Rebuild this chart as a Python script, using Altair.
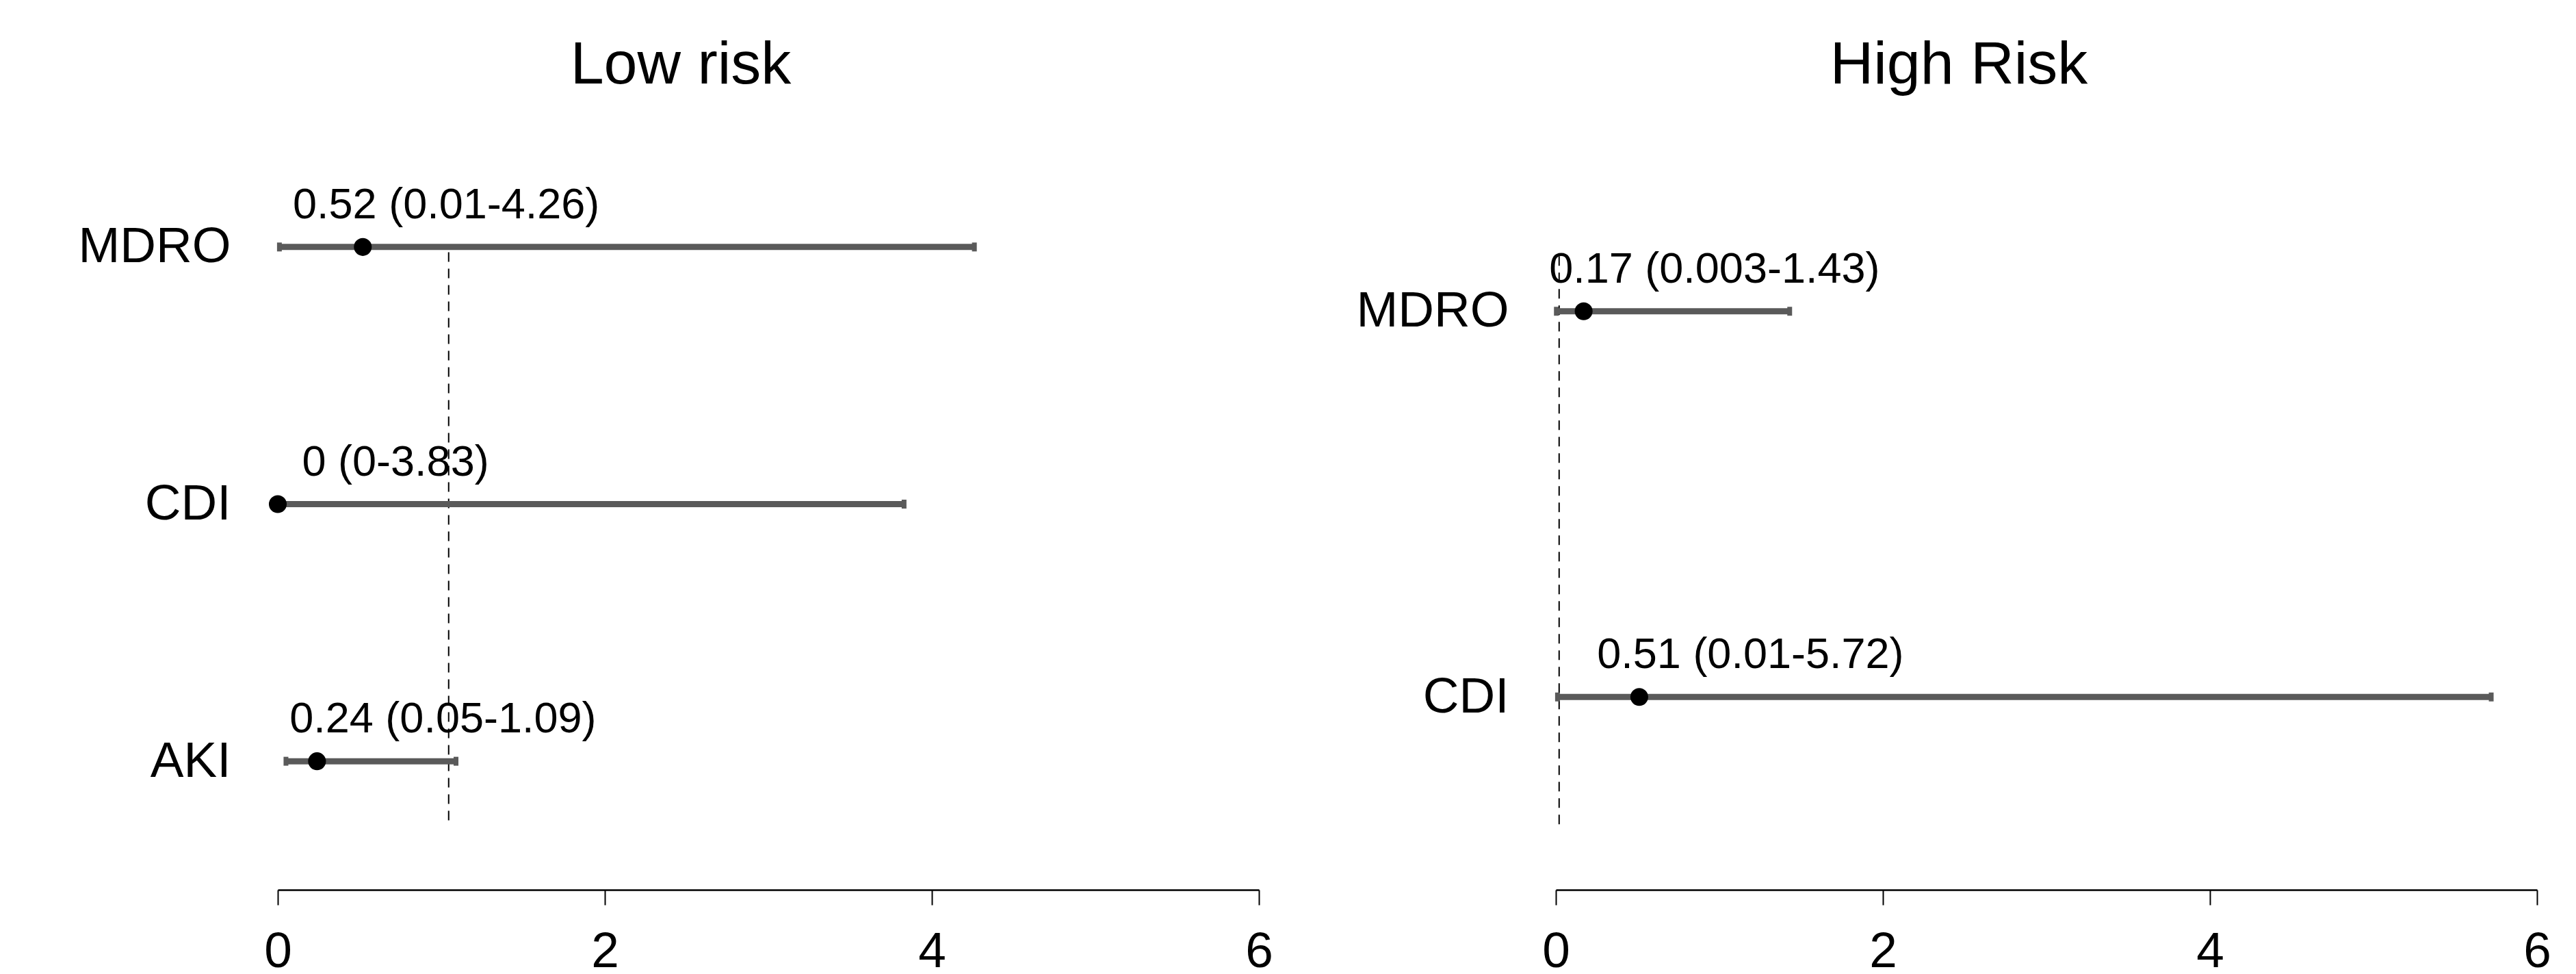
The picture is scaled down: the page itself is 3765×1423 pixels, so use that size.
import altair as alt
import pandas as pd

# ---- data ----
low_cats = ["MDRO", "CDI", "AKI"]
low_est = [0.52, 0.0, 0.24]
low_lo = [0.01, 0.0, 0.05]
low_hi = [4.26, 3.83, 1.09]
low_text = ["0.52 (0.01-4.26)", "0 (0-3.83)", "0.24 (0.05-1.09)"]
low_label_x = [1.03, 0.72, 1.01]
low_ref_x = 1.045
low_ref_y = [0.77, 3.0]

high_cats = ["MDRO", "CDI"]
high_est = [0.17, 0.51]
high_lo = [0.003, 0.01]
high_hi = [1.43, 5.72]
high_text = ["0.17 (0.003-1.43)", "0.51 (0.01-5.72)"]
high_label_x = [0.97, 1.19]
high_ref_x = 0.02
high_ref_y = [0.67, 2.16]

x_ticks = [0, 2, 4, 6]

FONT = "Liberation Sans"
GRAY = "#5a5a5a"
W, H = 1434, 1127


def panel(title, cats, est, lo, hi, text, lx, ref_x, ref_y):
    n = len(cats)
    rows = list(range(n, 0, -1))
    df = pd.DataFrame({"cat": cats, "row": rows, "est": est, "lo": lo,
                       "hi": hi, "text": text, "lx": lx})
    ref = pd.DataFrame({"x": [ref_x], "y": [ref_y[0]], "y2": [ref_y[1]]})
    names_by_row = [None] * (n + 1)
    for c, r in zip(cats, rows):
        names_by_row[r] = c
    label_expr = "[" + ",".join("'" + (c or "") + "'" for c in names_by_row) + "][datum.value]"

    xscale = alt.Scale(domain=[0, 6], nice=False, zero=False)
    yscale = alt.Scale(domain=[0.5, n + 0.5], nice=False, zero=False)
    xaxis = alt.Axis(values=x_ticks, format="d", grid=False, title=None,
                     labelFontSize=73, labelFont=FONT, labelColor="black",
                     tickSize=22, tickWidth=2, tickColor="black",
                     domainColor="black", domainWidth=2.5, labelPadding=32,
                     labelFlush=False, labelLimit=0)
    yaxis = alt.Axis(values=rows, grid=False, title=None, labelFontSize=73,
                     labelFont=FONT, labelColor="black", ticks=False,
                     domain=False, labelPadding=69, labelExpr=label_expr,
                     labelLimit=0)

    base = alt.Chart(df)
    bars = base.mark_rule(color=GRAY, strokeWidth=9).encode(
        x=alt.X("lo:Q", scale=xscale, axis=xaxis),
        x2="hi:Q",
        y=alt.Y("row:Q", scale=yscale, axis=yaxis),
    )
    cap_lo = base.mark_tick(orient="vertical", color=GRAY, size=13,
                            thickness=7, opacity=1).encode(x="lo:Q", y="row:Q")
    cap_hi = base.mark_tick(orient="vertical", color=GRAY, size=13,
                            thickness=7, opacity=1).encode(x="hi:Q", y="row:Q")
    pts = base.mark_point(filled=True, color="black", size=680,
                          opacity=1).encode(x="est:Q", y="row:Q")
    labels = base.mark_text(font=FONT, fontSize=63, color="black",
                            align="center", baseline="alphabetic",
                            dy=-42).encode(x="lx:Q", y="row:Q", text="text:N")
    refl = alt.Chart(ref).mark_rule(color="black", strokeWidth=2,
                                    strokeDash=[14, 10]).encode(
        x="x:Q", y="y:Q", y2="y2:Q")

    return alt.layer(refl, bars, cap_lo, cap_hi, pts, labels).properties(
        width=W, height=H,
        title=alt.TitleParams(title, fontSize=88, font=FONT,
                              fontWeight="normal", color="black",
                              anchor="middle", dx=-128, offset=33),
    )


left = panel("Low risk", low_cats, low_est, low_lo, low_hi, low_text,
             low_label_x, low_ref_x, low_ref_y)
right = panel("High Risk", high_cats, high_est, high_lo, high_hi, high_text,
              high_label_x, high_ref_x, high_ref_y)

chart = alt.hconcat(left, right, spacing=434, bounds="flush").properties(
    padding={"left": 113, "top": 52, "right": 20, "bottom": 5},
    background="white",
).configure_view(stroke=None)

chart.save("out.html", embed_options={"renderer": "svg", "actions": False})
